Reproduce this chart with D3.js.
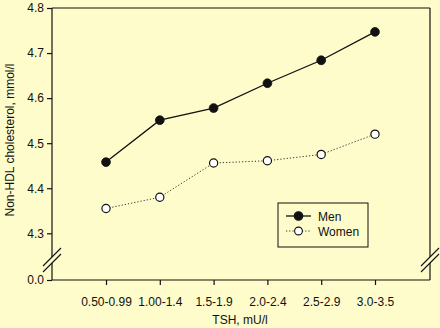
<!DOCTYPE html>
<html>
<head>
<meta charset="utf-8">
<script src="https://cdn.jsdelivr.net/npm/d3@7"></script>
<style>
  html, body { margin: 0; padding: 0; background: #fefccb; }
  svg { display: block; }
  text { font-family: "Liberation Sans", Arial, sans-serif; fill: #111; }
</style>
</head>
<body>
<svg id="chart" width="440" height="328"></svg>
<script>
// TSH bands and mean non-HDL cholesterol (mmol/l) per band
const categories = ["0.50-0.99", "1.00-1.4", "1.5-1.9", "2.0-2.4", "2.5-2.9", "3.0-3.5"];
const menValues = [4.458, 4.551, 4.578, 4.633, 4.684, 4.747];
const womenValues = [4.355, 4.380, 4.456, 4.461, 4.475, 4.520];
const yTicks = [0.0, 4.3, 4.4, 4.5, 4.6, 4.7, 4.8];
const seriesNames = ["Men", "Women"];

const svg = d3.select("#chart");
const plotLeft = 52, plotRight = 430, plotTop = 8, plotBottom = 280;

// Broken y axis: 0.0 at the bottom, then 4.3-4.8 above the break
const y = d3.scaleLinear().domain([0, 4.3, 4.8]).range([plotBottom, 233.3, plotTop]);
const x = d3.scalePoint().domain(categories).range([106, 375]);

const ink = "#111";
const fontFamily = "'Liberation Sans', Arial, sans-serif";
const fontSize = "12px";

// Frame: top and right edges, the right one interrupted by the break
const breakY = 260, gap = 6;
function seg(x1, y1, x2, y2, w) {
  svg.append("line").attr("x1", x1).attr("y1", y1).attr("x2", x2).attr("y2", y2)
    .attr("stroke", ink).attr("stroke-width", w || 1.2);
}
seg(plotLeft, plotTop, plotRight, plotTop);
seg(plotRight, plotTop, plotRight, breakY - gap / 2);
seg(plotRight, breakY + gap / 2, plotRight, plotBottom);

// Y axis
const yAxis = d3.axisLeft(y).tickValues(yTicks).tickFormat(d3.format(".1f")).tickSize(5).tickPadding(3);
const gy = svg.append("g").attr("transform", `translate(${plotLeft},0)`).call(yAxis);
gy.select(".domain").remove();
gy.selectAll(".tick line").attr("stroke", ink).attr("stroke-width", 1.2);
gy.selectAll(".tick text").style("font-size", fontSize).attr("fill", ink).style("font-family", fontFamily);
seg(plotLeft, plotTop, plotLeft, breakY - gap / 2);
seg(plotLeft, breakY + gap / 2, plotLeft, plotBottom);

// X axis
const xAxis = d3.axisBottom(x).tickSize(5).tickPadding(12);
const gx = svg.append("g").attr("transform", `translate(0,${plotBottom})`).call(xAxis);
gx.select(".domain").remove();
gx.selectAll(".tick line").attr("stroke", ink).attr("stroke-width", 1.2);
gx.selectAll(".tick text").style("font-size", fontSize).attr("fill", ink).style("font-family", fontFamily);
seg(plotLeft, plotBottom, plotRight, plotBottom);

// Break marks on both vertical edges
function breakMark(cx) {
  [-gap / 2, gap / 2].forEach(dy => {
    seg(cx - 9, breakY + dy + 9, cx + 9, breakY + dy - 9, 1.1);
  });
}
breakMark(plotLeft);
breakMark(plotRight);

// Axis titles
svg.append("text").attr("x", 240).attr("y", 324).attr("text-anchor", "middle")
  .style("font-size", fontSize).text("TSH, mU/l");
svg.append("text").attr("transform", "translate(14,140) rotate(-90)").attr("text-anchor", "middle")
  .style("font-size", fontSize).text("Non-HDL cholesterol, mmol/l");

// Series lines and markers
const line = d3.line().x((d, i) => x(categories[i])).y(d => y(d));

svg.append("path").datum(womenValues).attr("d", line)
  .attr("fill", "none").attr("stroke", "#333").attr("stroke-width", 1).attr("stroke-dasharray", "1.2,2");
svg.append("path").datum(menValues).attr("d", line)
  .attr("fill", "none").attr("stroke", ink).attr("stroke-width", 1.3);

svg.append("g").selectAll("circle").data(womenValues).join("circle")
  .attr("cx", (d, i) => x(categories[i])).attr("cy", d => y(d)).attr("r", 4.1)
  .attr("fill", "#fff").attr("stroke", ink).attr("stroke-width", 1.2);
svg.append("g").selectAll("circle").data(menValues).join("circle")
  .attr("cx", (d, i) => x(categories[i])).attr("cy", d => y(d)).attr("r", 4.4)
  .attr("fill", ink).attr("stroke", ink).attr("stroke-width", 0.8);

// Legend
const lg = svg.append("g").attr("transform", "translate(278,203)");
lg.append("rect").attr("width", 90).attr("height", 44)
  .attr("fill", "#fefccb").attr("stroke", ink).attr("stroke-width", 1);
seriesNames.forEach((name, i) => {
  const cy = 13 + i * 15;
  lg.append("line").attr("x1", 8).attr("x2", 33).attr("y1", cy).attr("y2", cy)
    .attr("stroke", i === 0 ? ink : "#333").attr("stroke-width", i === 0 ? 1.3 : 1)
    .attr("stroke-dasharray", i === 0 ? null : "1.2,2");
  lg.append("circle").attr("cx", 20.5).attr("cy", cy).attr("r", i === 0 ? 4.3 : 3.9)
    .attr("fill", i === 0 ? ink : "#fff").attr("stroke", ink).attr("stroke-width", 1.1);
  lg.append("text").attr("x", 40).attr("y", cy + 4.5).style("font-size", fontSize).text(name);
});
</script>
</body>
</html>
